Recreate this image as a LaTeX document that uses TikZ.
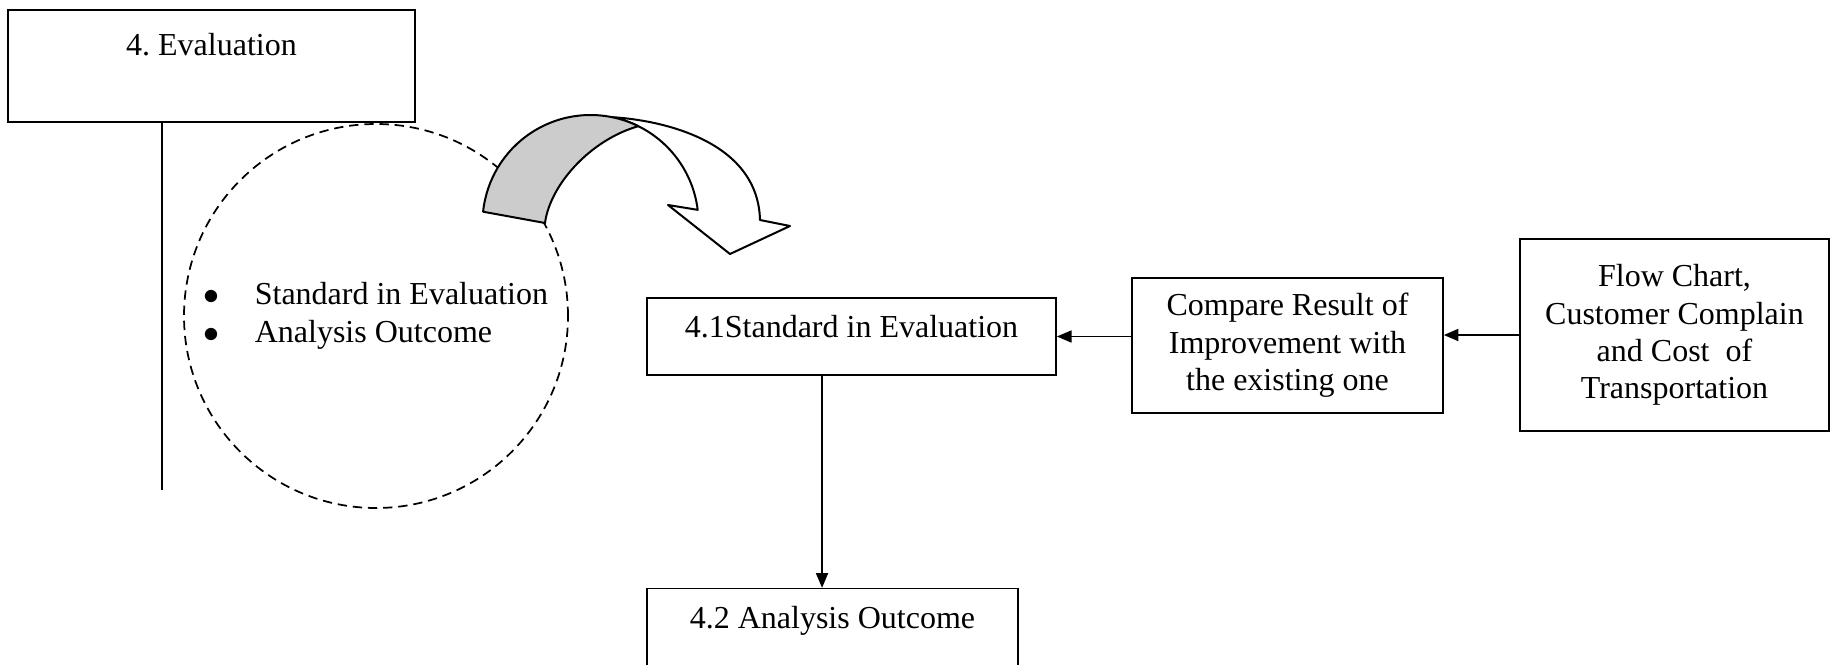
\documentclass[tikz,border=0pt]{standalone}
\usepackage{fontspec}
\setmainfont{Liberation Serif}
\usetikzlibrary{positioning, arrows.meta}

\begin{document}
\begin{tikzpicture}[
    x=0.375pt, y=-0.375pt,
    box/.style={draw=black, line width=0.6pt, align=center, inner sep=0pt, font=\fontsize{12}{14}\selectfont},
    ring/.style={draw=black, circle, dash pattern=on 3.5pt off 2.2pt, line width=0.65pt, align=left, inner sep=0pt, font=\fontsize{12}{14}\selectfont},
    ribbon/.style={draw=black, line width=0.75pt, line join=round},
    stem/.style={draw=black, line width=0.6pt},
    arrow/.style={-{Triangle[length=5.5pt, width=4.5pt]}, line width=0.6pt},
]
    \useasboundingbox (0,0) rectangle (1831,664);

    % Phase box
    \node[box, minimum width=152.6pt, text height=17.1pt, text depth=24.9pt] (eval) at (211.5,66) {4.\ Evaluation};
    \coordinate (evaltail) at (162,490);
    \draw[stem] (eval.south -| evaltail) -- (evaltail);

    % Scope of the phase
    \node[ring, minimum size=144pt] (scope) at (376,316)
        {\makebox[19.1pt][l]{$\bullet$}Standard in Evaluation\\
         \makebox[19.1pt][l]{$\bullet$}Analysis Outcome};

    % Bent arrow
    \coordinate (bend) at (590.5,223);
    \filldraw[ribbon, fill=white] ([shift={(281.5:108)}]bend) .. controls (660,120) and (758,140) .. (760,220)
        -- (790,226) -- (730,254) -- (668,205) -- ([shift={(353:108)}]bend)
        arc[start angle=353, end angle=281.5, radius=108] -- cycle;
    \filldraw[ribbon, fill=gray!40] ([shift={(186:108)}]bend) -- (545,223)
        .. controls (550,185) and (590,140) .. ([shift={(296.3:108)}]bend)
        arc[start angle=296.3, end angle=186, radius=108] -- cycle;

    % Sub steps
    \node[box, minimum width=153.4pt, text height=15pt, text depth=13.9pt] (std) at (851.5,336.5) {4.1Standard in Evaluation};
    \node[box, minimum width=139.1pt, text height=15pt, text depth=14.3pt, below=79.5pt of std.south west, anchor=north west] (ana) {4.2 Analysis Outcome};

    % Inputs
    \node[box, minimum width=116.6pt, minimum height=50.6pt] (cmp) at (1287.5,345.5) {Compare Result of\\Improvement with\\the existing one};
    \node[box, minimum width=115.9pt, minimum height=72pt] (flow) at (1674.5,335) {Flow Chart,\\Customer Complain\\and Cost~~of\\Transportation};

    % Connections
    \draw[arrow, line width=0.8pt] (flow.west) -- (flow.west -| cmp.east);
    \draw[arrow] (cmp.west |- std.east) -- (std.east);
    \draw[arrow] ([xshift=-3.9pt]ana.north |- std.south) -- ([xshift=-3.9pt]ana.north);
\end{tikzpicture}
\end{document}
